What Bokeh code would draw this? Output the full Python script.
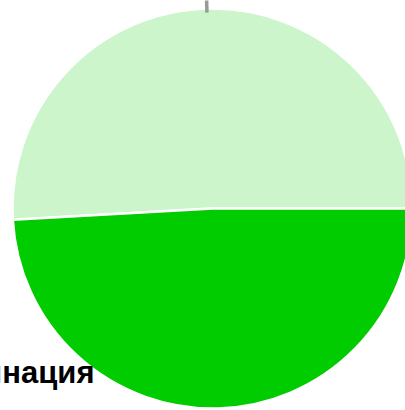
import numpy as np
from bokeh.plotting import figure
from bokeh.models import ColumnDataSource
from bokeh.transform import cumsum
from bokeh.core.properties import value
from bokeh.embed import file_html
from bokeh.resources import INLINE

categories = ["Другое", "Дискриминация"]
shares = [50.9, 49.1]
colors = ["#ccf5cc", "#00cc00"]

W, H = 405, 410
cx, cy, r = 212, 202, 200

total = sum(shares)
angles = [s / total * 2 * np.pi for s in shares]
src = ColumnDataSource(dict(cat=categories, val=shares, angle=angles, color=colors))

p = figure(width=W, height=H, x_range=(0, W), y_range=(0, H),
           output_backend="svg", toolbar_location=None, min_border=0)
p.axis.visible = False
p.grid.visible = False
p.outline_line_color = None
p.background_fill_color = "white"

p.wedge(x=cx, y=cy, radius=r, start_angle=cumsum("angle", include_zero=True),
        end_angle=cumsum("angle"), fill_color="color", line_color="white",
        line_width=2.5, source=src)

# leader line for first slice (midpoint angle)
mid0 = angles[0] / 2
x0 = cx + (r - 4) * np.cos(mid0)
y0 = cy + (r - 4) * np.sin(mid0)
x1 = cx + (r + 30) * np.cos(mid0)
y1 = cy + (r + 30) * np.sin(mid0)
p.line([x0, x1], [y0, y1], line_color="#999999", line_width=3.5)

p.text(x=[94], y=[38], text=[categories[1]], text_align="right",
       text_baseline="alphabetic", text_font=value("Liberation Sans"),
       text_font_style="bold", text_font_size="31px", text_color="black")

open("out.html", "w").write(file_html(p, INLINE))
